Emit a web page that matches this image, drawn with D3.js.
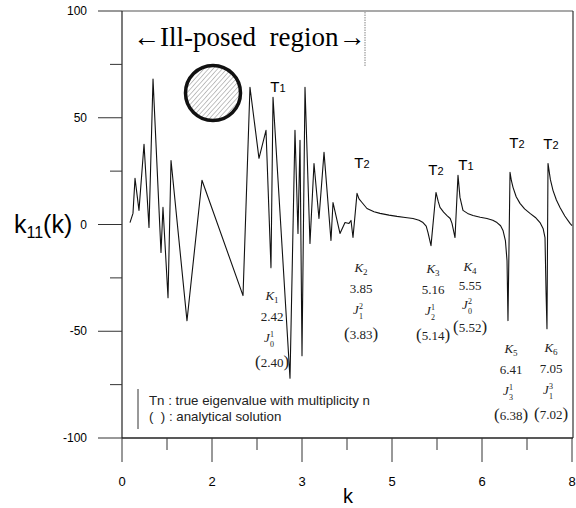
<!DOCTYPE html>
<html>
<head>
<meta charset="utf-8">
<script src="https://cdn.jsdelivr.net/npm/d3@7"></script>
<style>
  body { margin: 0; background: #fff; }
  svg { display: block; }
  .sans { font-family: "Liberation Sans", Arial, sans-serif; }
  .serif { font-family: "Liberation Serif", "Times New Roman", serif; }
</style>
</head>
<body>
<svg id="chart" width="576" height="508"></svg>
<script>
// k values and k11(k)
const kVals = [0.133, 0.183, 0.217, 0.283, 0.367, 0.45, 0.517, 0.65, 0.683, 0.767, 0.817, 1.083,
  1.333, 2.017, 2.133, 2.283, 2.4, 2.483, 2.517, 2.8, 2.883, 2.933, 2.967, 3.0, 3.05, 3.133,
  3.2, 3.283, 3.367, 3.483, 3.517, 3.633, 3.717, 3.783, 3.817, 3.85, 3.917, 3.95, 4.0, 4.083,
  4.2, 4.3, 4.45, 4.583, 4.72, 4.85, 4.95, 5.017, 5.07, 5.1, 5.15, 5.233, 5.27, 5.3, 5.36,
  5.417, 5.47, 5.5, 5.55, 5.6, 5.633, 5.683, 5.76, 5.85, 5.97, 6.083, 6.18, 6.25, 6.31, 6.35,
  6.39, 6.417, 6.433, 6.467, 6.49, 6.517, 6.57, 6.633, 6.71, 6.8, 6.89, 6.967, 7.02, 7.05,
  7.067, 7.083, 7.1, 7.14, 7.183, 7.24, 7.3, 7.38, 7.467, 7.5];
const k11Vals = [0.9, 5.2, 21.6, 6.6, 37.6, -1.4, 68.1, -13.1, 8.0, -34.3, 30.0, -45.1,
  20.7, -33.3, 64.3, 31.0, 44.1, -20.2, 59.6, -72, 44.1, -4.2, 39.4, -61.5, 64.3, -8.9,
  28.6, 2.8, 33.8, -7.5, 10.3, -4.2, 0.9, 0.5, 1.9, -6.1, 14.6, 12.0, 10.3, 7.5,
  6.0, 5.2, 4.4, 3.8, 3.3, 2.8, 2.0, 0.9, -0.8, -3.8, -9.9, 15.0, 10.8, 8.0, 5.8,
  4.2, 2.8, 0.5, -6.1, 23.0, 12.7, 6.6, 5.2, 4.2, 3.4, 2.8, 2.0, 0.9, -0.6, -2.8,
  -7.5, -16.9, -45, 24.4, 20.5, 17.4, 13.0, 9.9, 7.3, 5.2, 3.3, 0.9, -2.0, -6.1,
  -31, -48.8, 28.6, 21.0, 16.0, 11.5, 8.0, 4.0, 0.5, -0.5];

const xTickVals = [0, 1.5, 3, 4.5, 6, 7.5];
const xTickLabels = ["0", "2", "3", "5", "6", "8"];
const yTickVals = [-100, -50, 0, 50, 100];

const tLabels = ["T1", "T2", "T2", "T1", "T2", "T2"];
const kNames = ["1", "2", "3", "4", "5", "6"];
const kNumeric = ["2.42", "3.85", "5.16", "5.55", "6.41", "7.05"];
const jSub = ["0", "1", "2", "0", "3", "1"];
const jSup = ["1", "2", "1", "2", "1", "3"];
const kAnalytic = ["2.40", "3.83", "5.14", "5.52", "6.38", "7.02"];

const svg = d3.select("#chart");
const x = d3.scaleLinear().domain([0, 7.5]).range([122, 572]);
const y = d3.scaleLinear().domain([-100, 100]).range([438, 11]);

// hatch pattern for the circle
svg.append("defs").append("pattern")
    .attr("id", "hatch")
    .attr("patternUnits", "userSpaceOnUse")
    .attr("width", 3.4).attr("height", 3.4)
    .attr("patternTransform", "rotate(42)")
  .append("line")
    .attr("x1", 0).attr("y1", 0).attr("x2", 0).attr("y2", 3.4)
    .attr("stroke", "#777").attr("stroke-width", 0.9);

// frame (top & right)
svg.append("line").attr("x1", 122).attr("x2", 573).attr("y1", 11).attr("y2", 11)
  .attr("stroke", "#555").attr("stroke-width", 1.2);
svg.append("line").attr("x1", 573).attr("x2", 573).attr("y1", 11).attr("y2", 438)
  .attr("stroke", "#333").attr("stroke-width", 1.2);

// y axis
const yAxis = svg.append("g");
yAxis.append("line").attr("x1", 122).attr("x2", 122).attr("y1", 11).attr("y2", 438)
  .attr("stroke", "#222").attr("stroke-width", 1.2);
yAxis.selectAll(".ymaj").data(yTickVals).enter().append("line")
  .attr("x1", 98).attr("x2", 122)
  .attr("y1", d => y(d)).attr("y2", d => y(d))
  .attr("stroke", "#333");
yAxis.selectAll(".ymin").data(d3.range(-75, 100, 50)).enter().append("line")
  .attr("x1", 110).attr("x2", 122)
  .attr("y1", d => y(d)).attr("y2", d => y(d))
  .attr("stroke", "#333");
yAxis.selectAll(".ylab").data(yTickVals).enter().append("text")
  .attr("class", "sans")
  .attr("x", 87).attr("y", d => y(d) + 4)
  .attr("text-anchor", "end")
  .attr("font-size", 12)
  .text(d => d);

// y label k11(k)
const yl = svg.append("text").attr("class", "sans")
  .attr("x", 14).attr("y", y(0) + 8).attr("font-size", 25);
yl.append("tspan").text("k");
yl.append("tspan").attr("font-size", 16).attr("dy", 5).text("11");
yl.append("tspan").attr("dy", -5).text("(k)");

// x axis
const xAxis = svg.append("g");
xAxis.append("line").attr("x1", 122).attr("x2", 573).attr("y1", 438).attr("y2", 438)
  .attr("stroke", "#222").attr("stroke-width", 1.4);
xAxis.selectAll(".xmaj").data(xTickVals).enter().append("line")
  .attr("x1", d => x(d)).attr("x2", d => x(d))
  .attr("y1", 438).attr("y2", 462)
  .attr("stroke", "#333");
xAxis.selectAll(".xmin").data(d3.range(0.75, 7.5, 1.5)).enter().append("line")
  .attr("x1", d => x(d)).attr("x2", d => x(d))
  .attr("y1", 438).attr("y2", 450)
  .attr("stroke", "#333");
xAxis.selectAll(".xlab").data(xTickVals).enter().append("text")
  .attr("class", "sans")
  .attr("x", d => x(d)).attr("y", 486)
  .attr("text-anchor", "middle")
  .attr("font-size", 13)
  .text((d, i) => xTickLabels[i]);
svg.append("text").attr("class", "sans")
  .attr("x", 348).attr("y", 503)
  .attr("text-anchor", "middle")
  .attr("font-size", 20)
  .text("k");

// the curve
const line = d3.line()
  .x((d, i) => x(kVals[i]))
  .y(d => y(d));
svg.append("path")
  .attr("d", line(k11Vals))
  .attr("fill", "none")
  .attr("stroke", "#111")
  .attr("stroke-width", 1.1)
  .attr("stroke-linejoin", "round");

// ill-posed region text
svg.append("text").attr("class", "serif")
  .attr("x", 133).attr("y", 46)
  .attr("font-size", 27)
  .attr("xml:space", "preserve")
  .style("white-space", "pre")
  .text("\u2190Ill-posed  region\u2192");
svg.append("line").attr("x1", 365).attr("x2", 365).attr("y1", 12).attr("y2", 66)
  .attr("stroke", "#666").attr("stroke-width", 0.8).attr("stroke-dasharray", "1.5,1");

// hatched circle
svg.append("circle")
  .attr("cx", 213).attr("cy", 93).attr("r", 27.5)
  .attr("fill", "url(#hatch)")
  .attr("stroke", "#111").attr("stroke-width", 3.5);

// T labels
const tPos = [[278, 92], [362, 168], [436, 175], [466, 170], [517, 148], [551, 149]];
tLabels.forEach((t, i) => {
  const tt = svg.append("text").attr("class", "sans")
    .attr("x", tPos[i][0]).attr("y", tPos[i][1])
    .attr("text-anchor", "middle")
    .attr("font-size", 15);
  tt.append("tspan").text(t[0]);
  tt.append("tspan").attr("font-size", 11).text(t[1]);
});

// K annotations
const kPos = [[272, 295], [361, 267], [433, 268], [470, 266], [511, 348], [551, 347]];
kNames.forEach((n, i) => {
  const cx = kPos[i][0], cy = kPos[i][1];
  const gap = i === 3 ? 19 : 21;
  const g = svg.append("g").attr("class", "serif").attr("text-anchor", "middle").attr("fill", "#222");
  const k = g.append("text").attr("x", cx).attr("y", cy + 5).attr("font-size", 13);
  k.append("tspan").attr("font-style", "italic").text("K");
  k.append("tspan").attr("font-size", 9).attr("dy", 3).text(n);
  g.append("text").attr("x", cx).attr("y", cy + gap + 5).attr("font-size", 13).text(kNumeric[i]);
  const j = g.append("text").attr("x", cx - 3).attr("y", cy + 2 * gap + 5).attr("font-size", 13);
  j.append("tspan").attr("font-style", "italic").text("J");
  j.append("tspan").attr("font-size", 8).attr("dy", -5).text(jSup[i]);
  j.append("tspan").attr("font-size", 8).attr("dx", -4).attr("dy", 10).text(jSub[i]);
  const a = g.append("text").attr("x", cx).attr("y", cy + 3 * gap + 9).attr("font-size", 13);
  a.append("tspan").attr("font-size", 17).text("(");
  a.append("tspan").text(kAnalytic[i]);
  a.append("tspan").attr("font-size", 17).text(")");
});

// legend
svg.append("line").attr("x1", 138).attr("x2", 138).attr("y1", 389).attr("y2", 429)
  .attr("stroke", "#333");
svg.append("text").attr("class", "sans")
  .attr("x", 149).attr("y", 405).attr("font-size", 13.3).attr("fill", "#222")
  .text("Tn : true eigenvalue with multiplicity n");
svg.append("text").attr("class", "sans")
  .attr("x", 149).attr("y", 421).attr("font-size", 13.3).attr("fill", "#222")
  .attr("xml:space", "preserve").style("white-space", "pre")
  .text("(  ) : analytical solution");
</script>
</body>
</html>
